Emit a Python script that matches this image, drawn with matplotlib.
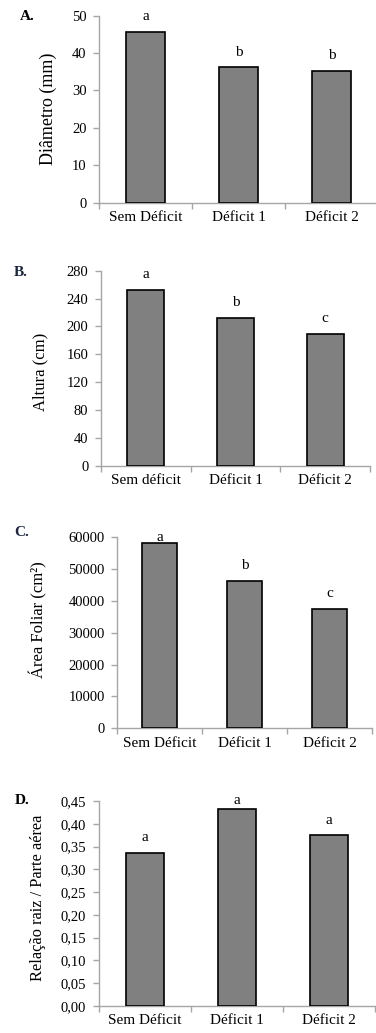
import matplotlib
matplotlib.use("Agg")
import matplotlib.pyplot as plt
from matplotlib.ticker import FuncFormatter, FixedLocator

plt.rcParams["font.family"] = ["Liberation Serif", "DejaVu Serif"]

# mean values per treatment, with Tukey letters
cats_a = ["Sem Déficit", "Déficit 1", "Déficit 2"]
diametro = [45.7, 36.2, 35.3]
letras_a = ["a", "b", "b"]

cats_b = ["Sem déficit", "Déficit 1", "Déficit 2"]
altura = [252.7, 212.5, 189.5]
letras_b = ["a", "b", "c"]

cats_c = ["Sem Déficit", "Déficit 1", "Déficit 2"]
area_foliar = [58300, 46300, 37500]
letras_c = ["a", "b", "c"]

cats_d = ["Sem Déficit", "Déficit 1", "Déficit 2"]
raiz_parte = [0.336, 0.432, 0.375]
letras_d = ["a", "a", "a"]

W, H = 376, 1033
fig = plt.figure(figsize=(W / 100, H / 100), dpi=100)
AXIS_GRAY = "#a6a6a6"


def add_panel(px_left, px_right, px_top, px_bottom, cats, vals, letters, ymax, ystep,
              ylabel, ylabel_size, ylabel_x, ylabel_y, fmt, tag, tag_xy, tag_color="black"):
    ax = fig.add_axes([px_left / W, 1 - px_bottom / H,
                       (px_right - px_left) / W, (px_bottom - px_top) / H])
    x = list(range(len(cats)))
    ax.bar(x, vals, width=0.41, color="#808080", edgecolor="black", linewidth=1.2, zorder=3)
    ax.set_xlim(-0.5, len(cats) - 0.5)
    ax.set_ylim(0, ymax)
    ax.yaxis.set_major_locator(FixedLocator([i * ystep for i in range(int(round(ymax / ystep)) + 1)]))
    ax.yaxis.set_major_formatter(FuncFormatter(fmt))
    ax.set_xticks(x)
    ax.set_xticklabels(cats, fontsize=11)
    ax.set_xticks([i - 0.5 for i in range(len(cats) + 1)], minor=True)
    ax.tick_params(axis="x", which="major", length=0, pad=6)
    ax.tick_params(axis="x", which="minor", length=4, color=AXIS_GRAY, width=1, direction="out")
    ax.tick_params(axis="y", length=4, color=AXIS_GRAY, width=1, direction="out",
                   labelsize=10.5, pad=5)
    for s in ("top", "right"):
        ax.spines[s].set_visible(False)
    for s in ("left", "bottom"):
        ax.spines[s].set_color(AXIS_GRAY)
        ax.spines[s].set_linewidth(1)
    ax.set_ylabel(ylabel, fontsize=ylabel_size, va="center")
    ax.yaxis.set_label_coords(ylabel_x, ylabel_y)
    h_px = px_bottom - px_top
    for xi, v, lt in zip(x, vals, letters):
        ty = min(v / ymax + 15 / h_px, 1.0)
        ax.text(xi, ty, lt, transform=ax.get_xaxis_transform(), ha="center", va="center",
                fontsize=11)
    fig.text(tag_xy[0] / W, 1 - tag_xy[1] / H, tag, ha="left", va="center",
             fontsize=11, fontweight="bold", color=tag_color)
    return ax


add_panel(99, 378, 15.7, 202.7, cats_a, diametro, letras_a, 50, 10,
          "Diâmetro (mm)", 13, -0.183, 0.5, lambda v, p: f"{v:.0f}", "A.", (20, 16))
add_panel(101, 370, 270.7, 465.7, cats_b, altura, letras_b, 280, 40,
          "Altura (cm)", 12, -0.227, 0.48, lambda v, p: f"{v:.0f}", "B.", (14, 272), "#1c2542")
add_panel(117.3, 372, 537.3, 728.3, cats_c, area_foliar, letras_c, 60000, 10000,
          "Área Foliar (cm²)", 12, -0.311, 0.57, lambda v, p: f"{v:.0f}", "C.", (14, 533), "#1c2542")
add_panel(98.7, 375, 801, 1006, cats_d, raiz_parte, letras_d, 0.45, 0.05,
          "Relação raiz / Parte aérea", 11.8, -0.22, 0.53,
          lambda v, p: f"{v:.2f}".replace(".", ","), "D.", (15, 800))

fig.savefig("out.png", dpi=100)
